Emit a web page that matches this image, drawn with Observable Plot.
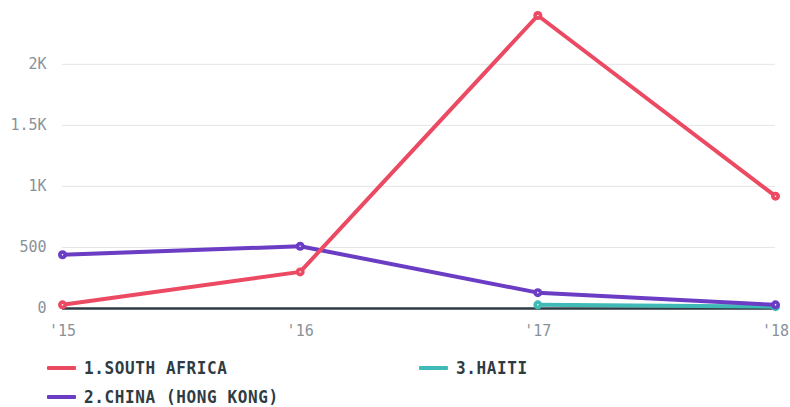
<!DOCTYPE html>
<html><head><meta charset="utf-8">
<script src="https://cdn.jsdelivr.net/npm/d3@7"></script>
<script src="https://cdn.jsdelivr.net/npm/@observablehq/plot@0.6"></script>
<style>
body{margin:0;background:#fff;font-family:"DejaVu Sans Mono",monospace;}
#wrap{position:relative;width:790px;height:407px;}
#legend{position:absolute;left:0;top:0;width:790px;height:407px;pointer-events:none;}
.item{position:absolute;display:flex;align-items:center;font-weight:bold;font-size:16px;color:#2f3b43;letter-spacing:0.62px;height:20px;}
.item span{display:inline-block;transform:scaleY(1.05);}
.sw{width:29px;height:4px;margin-right:8px;border-radius:1px;}
</style></head>
<body><div id="wrap"><div id="chart"></div><div id="legend"></div></div>
<script>
const years = [2015, 2016, 2017, 2018];
const seriesNames = ["1.SOUTH AFRICA", "2.CHINA (HONG KONG)", "3.HAITI"];
const colors = ["#ec4a62", "#6b3cc4", "#3fbab6"];
const southAfrica = [30, 300, 2400, 920];
const chinaHK = [440, 510, 130, 30];
const haiti = [null, null, 30, 15];
const yTicks = [0, 500, 1000, 1500, 2000];
const yTickLabels = ["0", "500", "1K", "1.5K", "2K"];
const xTickLabels = ["'15", "'16", "'17", "'18"];

const valuesBySeries = [southAfrica, chinaHK, haiti];
const rows = [];
valuesBySeries.forEach((vals, i) => vals.forEach((v, j) => {
  if (v != null) rows.push({series: seriesNames[i], year: years[j], value: v});
}));
const drawOrder = [2, 1, 0];
const marks = [
  Plot.gridY(yTicks.filter(d => d > 0), {stroke: "#e3e5e7", strokeOpacity: 1, strokeWidth: 1}),
  Plot.ruleY([0], {stroke: "#2f3b43", strokeWidth: 2.5}),
];
for (const i of drawOrder) {
  const data = rows.filter(d => d.series === seriesNames[i]);
  marks.push(Plot.line(data, {x: "year", y: "value", stroke: colors[i], strokeWidth: 4}));
  marks.push(Plot.dot(data, {x: "year", y: "value", r: 4.5, fill: colors[i], stroke: null}));
  marks.push(Plot.dot(data, {x: "year", y: "value", r: 0.8, fill: "#fff", stroke: null}));
}
const chart = Plot.plot({
  width: 790, height: 345,
  marginLeft: 62, marginRight: 15, marginTop: 15, marginBottom: 37,
  style: {fontFamily: "DejaVu Sans Mono", fontSize: "15px", color: "#8a9299", background: "#fff"},
  x: {domain: [2015, 2018], ticks: years, tickFormat: (d) => xTickLabels[years.indexOf(d)], tickSize: 0, tickPadding: 17, label: null},
  y: {domain: [0, 2400], ticks: yTicks, tickFormat: (d) => yTickLabels[yTicks.indexOf(d)], tickSize: 0, tickPadding: 16, label: null},
  marks
});
document.getElementById("chart").appendChild(chart);

const legendPos = [[47, 368], [47, 397], [419, 368]];
const leg = document.getElementById("legend");
seriesNames.forEach((name, i) => {
  const el = document.createElement("div");
  el.className = "item";
  el.style.left = legendPos[i][0] + "px";
  el.style.top = (legendPos[i][1] - 10) + "px";
  el.innerHTML = `<div class="sw" style="background:${colors[i]}"></div><span>${name}</span>`;
  leg.appendChild(el);
});
</script></body></html>
